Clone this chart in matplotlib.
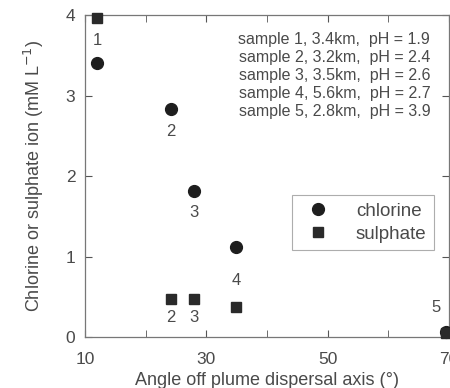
import matplotlib
matplotlib.use("Agg")
import matplotlib.pyplot as plt
from matplotlib.ticker import FixedLocator, MultipleLocator

plt.rcParams['font.family'] = ['Liberation Sans', 'DejaVu Sans']

# Samples along the plume
sample_ids = ["1", "2", "3", "4", "5"]
angle = [12.0, 24.1, 28.0, 34.9, 69.5]
chlorine = [3.40, 2.83, 1.81, 1.12, 0.07]
sulphate = [3.97, 0.48, 0.47, 0.37, 0.05]
sample_notes = [
    "sample 1, 3.4km,  pH = 1.9",
    "sample 2, 3.2km,  pH = 2.4",
    "sample 3, 3.5km,  pH = 2.6",
    "sample 4, 5.6km,  pH = 2.7",
    "sample 5, 2.8km,  pH = 3.9",
]
x_major = [10, 30, 50, 70]
x_minor = [20, 40, 60]

txt = "#4a4a4a"

fig = plt.figure(figsize=(4.5, 3.88), dpi=100)
ax = fig.add_axes([0.189, 0.131, 0.809, 0.830])

ax.plot(angle, chlorine, 'o', color="#1e1e1e", markersize=8.5, label="chlorine",
        clip_on=False, zorder=3)
ax.plot(angle, sulphate, 's', color="#2a2a2a", markersize=7.5, label="sulphate",
        clip_on=False, zorder=3)

ax.set_xlim(10, 70)
ax.set_ylim(0, 4)
ax.xaxis.set_major_locator(FixedLocator(x_major))
ax.xaxis.set_minor_locator(FixedLocator(x_minor))
ax.yaxis.set_major_locator(MultipleLocator(1))
ax.tick_params(which='both', direction='in', top=True, right=True,
               color="#555555", labelcolor=txt, labelsize=12.5)
ax.tick_params(which='major', length=5, pad=7)
ax.tick_params(axis='x', which='major', pad=11)
ax.tick_params(which='minor', length=5)
for s in ax.spines.values():
    s.set_color("#777777")
    s.set_linewidth(0.9)

ax.set_xlabel("Angle off plume dispersal axis (°)", color=txt, fontsize=13, labelpad=3)
ax.set_ylabel("Chlorine or sulphate ion (mM L$^{-1}$)", color=txt, fontsize=13, labelpad=14)

# sample numbers beside the points
num_labels = [
    ("1", angle[0], 3.69),
    ("2", angle[1], 2.56),
    ("3", angle[2], 1.55),
    ("4", angle[3], 0.71),
    ("5", 67.8, 0.37),
    ("2", angle[1], 0.24),
    ("3", angle[2], 0.24),
]
for sid, x, y in num_labels:
    ax.text(x, y, sid, ha='center', va='center', fontsize=12, color=txt)

ax.text(0.948, 0.948, "\n".join(sample_notes), transform=ax.transAxes,
        ha='right', va='top', fontsize=11.5, color=txt, linespacing=1.26)

leg = ax.legend(loc='upper left', bbox_to_anchor=(0.569, 0.441), frameon=True,
                fancybox=False, fontsize=13.5, handletextpad=1.0,
                borderpad=0.4, labelspacing=0.3, borderaxespad=0)
leg.get_frame().set_edgecolor("#999999")
leg.get_frame().set_linewidth(0.8)
for t in leg.get_texts():
    t.set_color(txt)

fig.savefig("out.png", dpi=100)
